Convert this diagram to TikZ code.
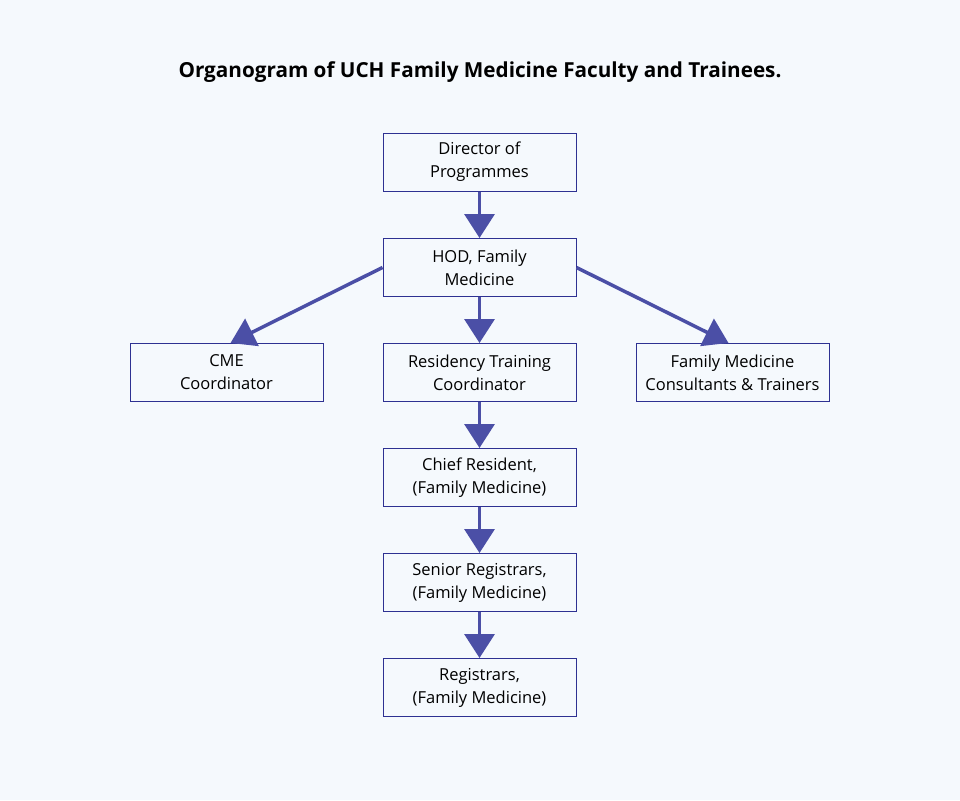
\documentclass[tikz,border=0pt]{standalone}
\usepackage{fontspec}
\setmainfont{Open Sans}
\usetikzlibrary{positioning}
\usetikzlibrary{arrows.meta}

\definecolor{bgcol}{HTML}{F5F9FD}
\definecolor{boxline}{HTML}{2E3192}
\definecolor{arrowcol}{HTML}{4B4FA6}

\begin{document}
\begin{tikzpicture} [x=1pt, y=-1pt]
    % boxes and arrows of the organogram
    \tikzstyle{post} = [draw=boxline, line width=1pt, rectangle, minimum width=193pt,
        minimum height=58pt, align=center, font=\fontsize{16.5}{23}\selectfont, inner sep=0pt]
    \tikzstyle{link} = [draw=arrowcol, line width=3.5pt, -{Triangle[width=30pt, length=24pt]}]

    % background fixes the page size
    \fill[bgcol] (0, 0) rectangle (960, 800);
    \useasboundingbox (0, 0) rectangle (960, 800);

    \node (title) [font=\fontsize{20.7}{24}\selectfont\bfseries] at (480, 72)
        {Organogram of UCH Family Medicine Faculty and Trainees.};

    % top of the tree
    \node (director) [post] at (479.5, 162) {Director of\\Programmes};
    \node (hod) [post] at (479.5, 267.5) {HOD, Family\\Medicine};

    % middle row
    \node (cme) [post] at (226.5, 372.5) {CME\\Coordinator};
    \node (residency) [post] at (479.5, 372.5) {Residency Training\\Coordinator};
    \node (consultants) [post] at (732.5, 372.5) {Family Medicine\\Consultants \& Trainers};

    % trainees below the residency coordinator
    \node (chief) [post] at (479.5, 477.5) {Chief Resident,\\(Family Medicine)};
    \node (senior) [post] at (479.5, 582.5) {Senior Registrars,\\(Family Medicine)};
    \node (registrars) [post] at (479.5, 687.5) {Registrars,\\(Family Medicine)};

    % connectors
    \draw[link] (director) -- (hod);
    \draw[link] (hod.west) -- ([xshift=4pt]cme.north);
    \draw[link] (hod.east) -- ([xshift=-4pt]consultants.north);
    \draw[link] (hod) -- (residency);
    \draw[link] (residency) -- (chief);
    \draw[link] (chief) -- (senior);
    \draw[link] (senior) -- (registrars);

\end{tikzpicture}
\end{document}
